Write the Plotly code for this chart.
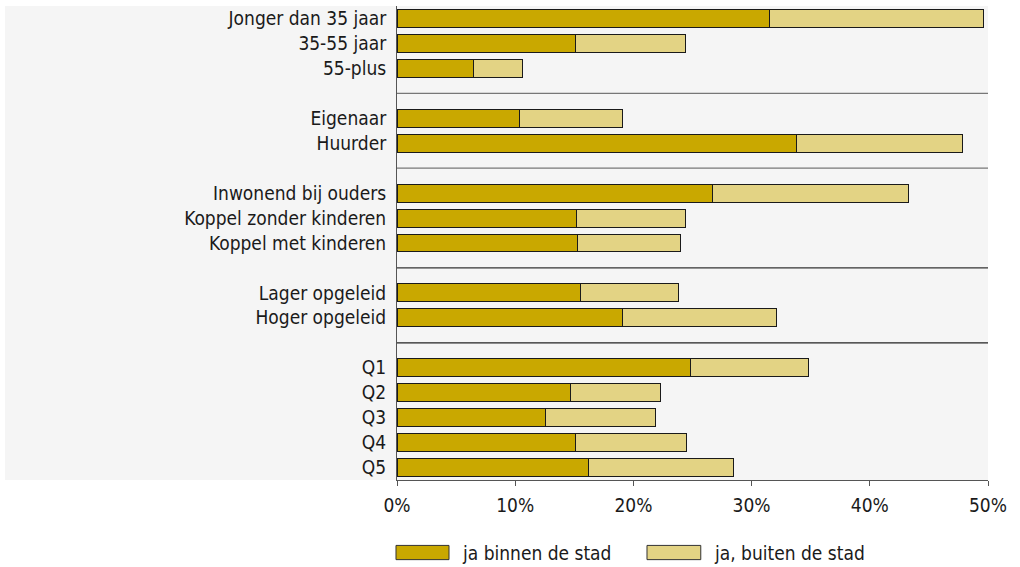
import plotly.graph_objects as go

groups = [
    ["Jonger dan 35 jaar", "35-55 jaar", "55-plus"],
    ["Eigenaar", "Huurder"],
    ["Inwonend bij ouders", "Koppel zonder kinderen", "Koppel met kinderen"],
    ["Lager opgeleid", "Hoger opgeleid"],
    ["Q1", "Q2", "Q3", "Q4", "Q5"],
]
binnen = [31.5, 15.1, 6.5, 10.4, 33.8, 26.7, 15.2, 15.3, 15.5, 19.1, 24.8, 14.7, 12.6, 15.1, 16.2]
totaal = [49.6, 24.4, 10.6, 19.1, 47.8, 43.3, 24.4, 24.0, 23.8, 32.1, 34.8, 22.3, 21.9, 24.5, 28.5]
buiten = [round(t - b, 1) for t, b in zip(totaal, binnen)]
series_names = ["ja binnen de stad", "ja, buiten de stad"]
x_ticks = [0, 10, 20, 30, 40, 50]

# positions: each group followed by an empty slot holding a separator line
labels, ypos, seps = [], [], []
slot = 0
for gi, g in enumerate(groups):
    for lab in g:
        labels.append(lab)
        ypos.append(slot)
        slot += 1
    if gi < len(groups) - 1:
        seps.append(slot)
        slot += 1
n_slots = slot

DARK = "#C9A800"
LIGHT = "#E3D384"
FONT = "DejaVu Sans Condensed, Liberation Sans Narrow, sans-serif"
FS = 19

fig = go.Figure()
fig.add_trace(go.Bar(y=ypos, x=binnen, orientation="h", width=0.72, name=series_names[0],
                     marker=dict(color=DARK, line=dict(color="#1a1a1a", width=1)), showlegend=False))
fig.add_trace(go.Bar(y=ypos, x=buiten, orientation="h", width=0.72, name=series_names[1],
                     marker=dict(color=LIGHT, line=dict(color="#1a1a1a", width=1)), showlegend=False))

shapes = []
# gray background extending to the left under the labels
shapes.append(dict(type="rect", xref="paper", yref="paper", x0=-0.6633, x1=1, y0=0, y1=1,
                   fillcolor="#F5F5F5", line=dict(width=0), layer="below"))
sep_colors = ["#777777", "#777777", "#333333", "#222222"]
for s, c in zip(seps, sep_colors):
    shapes.append(dict(type="line", xref="paper", yref="y", x0=0, x1=1, y0=s, y1=s,
                       line=dict(color=c, width=1.2)))
# legend swatches
leg = [(-0.0017, 0.088, DARK, 0.1066, series_names[0]), (0.423, 0.514, LIGHT, 0.5330, series_names[1])]
annotations = []
for x0, x1, col, tx, txt in leg:
    shapes.append(dict(type="rect", xref="paper", yref="paper", x0=x0, x1=x1, y0=-0.138, y1=-0.168,
                       fillcolor=col, line=dict(color="#333333", width=1)))
    annotations.append(dict(xref="paper", yref="paper", x=tx, y=-0.153, text=txt, showarrow=False,
                            xanchor="left", yanchor="middle", font=dict(size=FS, color="#1a1a1a", family=FONT)))

fig.update_layout(
    barmode="stack",
    width=1020, height=567,
    margin=dict(l=397, r=32, t=6, b=87),
    paper_bgcolor="white",
    plot_bgcolor="rgba(0,0,0,0)",
    font=dict(family=FONT, size=FS, color="#1a1a1a"),
    shapes=shapes,
    annotations=annotations,
    showlegend=False,
    xaxis=dict(range=[0, 50], tickvals=x_ticks, ticktext=[f"{v}%" for v in x_ticks],
               showgrid=False, zeroline=False, showline=True, linecolor="#555555", linewidth=1,
               ticks="outside", ticklen=5, tickcolor="#555555", tickfont=dict(size=FS),
               ticklabelstandoff=3),
    yaxis=dict(range=[n_slots - 0.5, -0.5], tickvals=ypos, ticktext=labels,
               showgrid=False, zeroline=False, showline=True, linecolor="#555555", linewidth=1,
               ticks="", ticklabelstandoff=6, tickfont=dict(size=FS)),
)

fig.write_html("out.html", config={"displayModeBar": False},
               post_script="document.body.style.margin='0';document.body.style.overflow='hidden';")
